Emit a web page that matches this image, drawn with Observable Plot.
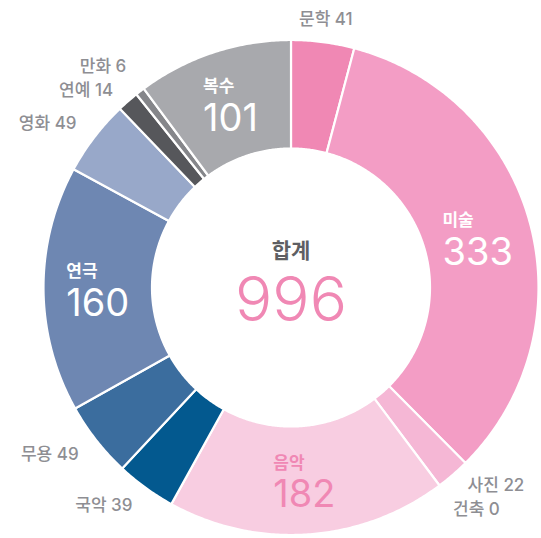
<!DOCTYPE html>
<html><head><meta charset="utf-8">
<script src="https://cdn.jsdelivr.net/npm/d3@7"></script>
<script src="https://cdn.jsdelivr.net/npm/@observablehq/plot@0.6"></script>
<style>body{margin:0;background:#fff}</style>
</head><body><div id="chart"></div>
<script>
const categories = ["문학","미술","사진","건축","음악","국악","무용","연극","영화","연예","만화","복수"];
const values = [41,333,22,0,182,39,49,160,49,14,6,101];
const colors = ["#F088B4","#F39DC5","#F5B7D5","#F5B7D5","#F8CDE1","#03598F","#3B6D9E","#6E87B2","#98A8C9","#56575B","#85868A","#A8A9AD"];
const insideCats = ["미술","음악","연극","복수"];
const insideTextColors = ["#FFFFFF","#F088B4","#FFFFFF","#FFFFFF"];
const totalTitle = "합계";

const W = 541, H = 538;
const CX = 290.5, CY = 287;
const R_OUT = 247.5, R_IN = 139, R_LAB = 270;
const FONT = "Inter, 'Noto Sans CJK KR', sans-serif";

const total = d3.sum(values);
const rows = categories.map((c, i) => ({cat: c, value: values[i]}));
const arcs = d3.pie().sort(null).value(d => d.value)(rows);

// polygon points for each slice
const poly = [];
for (const a of arcs) {
  if (a.data.value <= 0) continue;
  const n = Math.max(2, Math.ceil((a.endAngle - a.startAngle) / (Math.PI / 360)));
  for (let k = 0; k <= n; k++) {
    const t = a.startAngle + (a.endAngle - a.startAngle) * k / n;
    poly.push({cat: a.data.cat, x: R_OUT * Math.sin(t), y: R_OUT * Math.cos(t)});
  }
  for (let k = n; k >= 0; k--) {
    const t = a.startAngle + (a.endAngle - a.startAngle) * k / n;
    poly.push({cat: a.data.cat, x: R_IN * Math.sin(t), y: R_IN * Math.cos(t)});
  }
}

const ctx = document.createElement("canvas").getContext("2d");
function tw(s, size, weight) { ctx.font = `${weight} ${size}px ${FONT}`; return ctx.measureText(s).width; }

const NUM_SIZE = 38;
const inside = arcs.filter(a => insideCats.includes(a.data.cat)).map(a => {
  const m = (a.startAngle + a.endAngle) / 2, r = (R_OUT + R_IN) / 2;
  const cx = r * Math.sin(m), cy = r * Math.cos(m);
  const w = tw(String(a.data.value), NUM_SIZE, 400);
  return {cat: a.data.cat, value: a.data.value, x: cx - w / 2, y: cy,
          color: insideTextColors[insideCats.indexOf(a.data.cat)]};
});

const outside = arcs.filter(a => !insideCats.includes(a.data.cat)).map(a => {
  const m = (a.startAngle + a.endAngle) / 2;
  const s = Math.sin(m);
  return {label: `${a.data.cat} ${a.data.value}`, x: R_LAB * s, y: R_LAB * Math.cos(m),
          side: Math.abs(s) < 0.3 ? "middle" : (s > 0 ? "start" : "end")};
});
// simple vertical dodge of neighbouring outside labels on each side
const GAP = 24;
for (const side of ["start", "end"]) {
  const g = outside.filter(d => d.side === side).sort((a, b) => b.y - a.y);
  for (let it = 0; it < 10; it++) {
    for (let i = 1; i < g.length; i++) {
      const d = g[i - 1].y - g[i].y;
      if (d < GAP) { const s = (GAP - d) / 2; g[i - 1].y += s; g[i].y -= s; }
    }
  }
}

const chart = Plot.plot({
  width: W, height: H,
  margin: 0,
  x: {domain: [-CX, W - CX], axis: null},
  y: {domain: [-(H - CY), CY], axis: null},
  color: {domain: categories, range: colors},
  style: {background: "#fff", fontFamily: FONT},
  marks: [
    Plot.line(poly, {x: "x", y: "y", z: "cat", fill: "cat", stroke: "white", strokeWidth: 2.2, curve: "linear-closed"}),
    Plot.text(inside, {x: "x", y: "y", text: "cat", fill: d => d.color, textAnchor: "start", dy: -17, fontSize: 17, fontWeight: 700, fontFamily: FONT}),
    Plot.text(inside, {x: "x", y: "y", text: d => String(d.value), fill: d => d.color, textAnchor: "start", dy: 15, fontSize: NUM_SIZE, fontWeight: 400, fontFamily: FONT}),
    ...["start","end","middle"].map(side =>
      Plot.text(outside.filter(d => d.side === side), {x: "x", y: "y", text: "label", textAnchor: side, fill: "#8E8E93", fontSize: 17, fontWeight: 500, fontFamily: FONT})),
    Plot.text([{t: totalTitle}], {x: () => 0, y: () => 0, text: "t", dy: -36, fill: "#5E5F63", fontSize: 21, fontWeight: 700, fontFamily: FONT}),
    Plot.text([{t: String(total)}], {x: () => 0, y: () => 0, text: "t", dy: 14, fill: "#F088B4", fontSize: 62, fontWeight: 300, fontFamily: FONT})
  ]
});
document.getElementById("chart").append(chart);
</script>
</body></html>
